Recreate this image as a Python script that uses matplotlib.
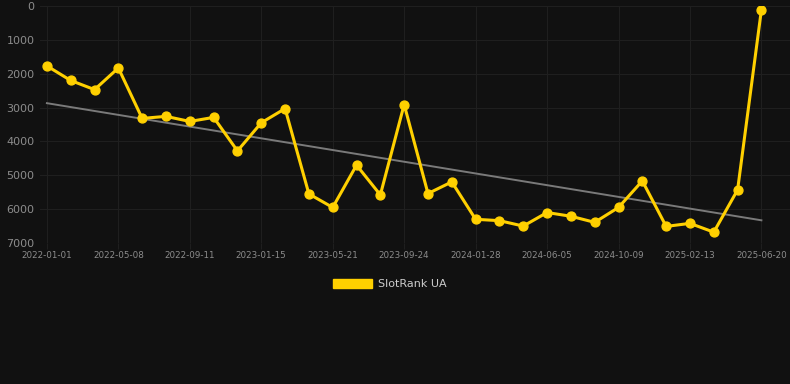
import matplotlib
matplotlib.use("Agg")
import matplotlib.pyplot as plt
from matplotlib.patches import Patch

tick_labels = ['2022-01-01', '2022-05-08', '2022-09-11', '2023-01-15', '2023-05-21',
               '2023-09-24', '2024-01-28', '2024-06-05', '2024-10-09', '2025-02-13',
               '2025-06-20']

ranks = [1770, 2200, 2470, 1830, 3320, 3260, 3410, 3290, 4280, 3450,
         3030, 5550, 5950, 4700, 5580, 2910, 5540, 5195, 6300, 6340,
         6500, 6100, 6210, 6390, 5950, 5165, 6510, 6420, 6680, 5430, 110]

trend_start = 2870
trend_end = 6330

bg = '#111111'
yellow = '#FFD000'

fig = plt.figure(figsize=(7.9, 3.84), dpi=100, facecolor=bg)
ax = fig.add_axes([40 / 790, 1 - 243 / 384, 750 / 790, 237 / 384], facecolor=bg)

x = list(range(len(ranks)))
ax.plot([x[0], x[-1]], [trend_start, trend_end], color='#7a7a7a', linewidth=1.4, zorder=2)
ax.plot(x, ranks, color=yellow, linewidth=2.2, marker='o', markersize=6.4, zorder=3)

ax.set_ylim(7000, 0)
ax.set_xlim(-0.29, 31.2)
ax.set_yticks(range(0, 7001, 1000))
ax.set_xticks(x[::3])
ax.set_xticklabels(tick_labels)

ax.grid(True, color='#1f1f1f', linewidth=0.8)
for s in ax.spines.values():
    s.set_visible(False)
ax.tick_params(axis='y', colors='#1f1f1f', labelcolor='#8c8c8c', labelsize=8, length=0, pad=4)
ax.tick_params(axis='x', colors='#1f1f1f', labelcolor='#8c8c8c', labelsize=6.3, length=4, pad=2)

fig.legend(handles=[Patch(facecolor=yellow, edgecolor=yellow)], labels=['SlotRank UA'],
           loc='center', bbox_to_anchor=(390 / 790, 1 - 284 / 384), frameon=False,
           fontsize=8, labelcolor='#cccccc', handlelength=3.5, handleheight=0.9,
           handletextpad=0.5)

fig.savefig('out.png', dpi=100, facecolor=bg)
